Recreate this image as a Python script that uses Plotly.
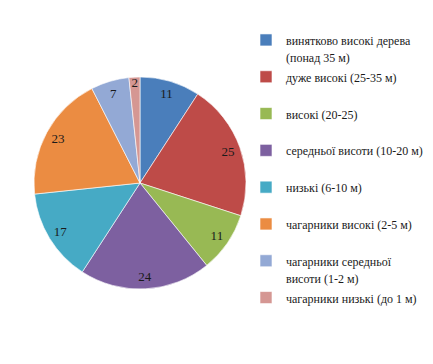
import plotly.graph_objects as go

legend_lines = [
    ["винятково високі дерева", "(понад 35 м)"],
    ["дуже високі (25-35 м)", "\u00a0"],
    ["високі (20-25)", "\u00a0"],
    ["середньої висоти (10-20 м)", "\u00a0"],
    ["низькі (6-10 м)", "\u00a0"],
    ["чагарники високі (2-5 м)", "\u00a0"],
    ["чагарники середньої", "висоти (1-2 м)"],
    ["чагарники низькі (до 1 м)"],
]
values = [11, 25, 11, 24, 17, 23, 7, 2]
colors = ["#4A7EBB", "#BE4B48", "#98B954", "#7D60A0", "#46AAC5", "#EB8C42", "#93A9D5", "#D59793"]

labels = ["<br>".join('<span style="font-size:12px">%s</span>' % s for s in lines)
          for lines in legend_lines]

W, H = 433, 364
cx, cy, r = 132, 175, 106
dom = dict(x=[(cx - r) / W, (cx + r) / W], y=[(H - cy - r) / H, (H - cy + r) / H])
FONT = "Liberation Serif, Times New Roman, serif"

fig = go.Figure()
fig.add_trace(go.Pie(
    labels=labels,
    values=values,
    sort=False,
    direction="clockwise",
    rotation=0,
    marker=dict(colors=colors, line=dict(color="rgba(255,255,255,0.6)", width=1)),
    textinfo="none",
    domain=dom,
    hoverinfo="value",
))
# label ring: same data, transparent, places the values near the rim
fig.add_trace(go.Pie(
    labels=labels,
    values=values,
    sort=False,
    direction="clockwise",
    rotation=0,
    hole=0.76,
    marker=dict(colors=["rgba(0,0,0,0)"] * len(values), line=dict(width=0)),
    textinfo="value",
    textposition="inside",
    insidetextorientation="horizontal",
    textfont=dict(family=FONT, size=13, color="#1a1a1a"),
    domain=dom,
    showlegend=False,
    hoverinfo="skip",
))

fig.update_layout(
    width=W, height=H,
    margin=dict(l=0, r=0, t=0, b=0),
    paper_bgcolor="white",
    plot_bgcolor="white",
    showlegend=True,
    uniformtext=dict(mode="show", minsize=13),
    legend=dict(
        x=238 / W, y=1 - 17 / H, xanchor="left", yanchor="top",
        bgcolor="rgba(0,0,0,0)",
        font=dict(family=FONT, size=13, color="#1a1a1a"),
        valign="top",
        traceorder="normal",
    ),
)

fig.write_html("out.html")
